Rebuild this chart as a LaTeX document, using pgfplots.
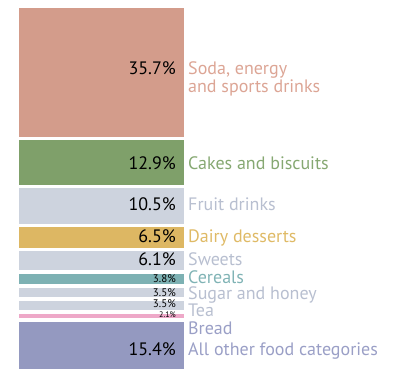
\documentclass[border=0pt]{standalone}
\usepackage{pgfplots}
\pgfplotsset{compat=1.18}
\usepackage{fontspec}
\setmainfont{PT Sans}
\definecolor{cSoda}{HTML}{D39C8B}
\definecolor{tSoda}{HTML}{DCA595}
\definecolor{cCake}{HTML}{7FA06A}
\definecolor{tCake}{HTML}{86A872}
\definecolor{cGray}{HTML}{CDD3DE}
\definecolor{tGray}{HTML}{B8BFD0}
\definecolor{cDairy}{HTML}{DDB763}
\definecolor{tDairy}{HTML}{DFBA66}
\definecolor{cCer}{HTML}{7DB1B3}
\definecolor{tCer}{HTML}{80B3B5}
\definecolor{cPink}{HTML}{EEA8C8}
\definecolor{cOther}{HTML}{9499C0}
\definecolor{tOther}{HTML}{9A9FC6}
\newcommand{\fbig}{\fontsize{18}{21}\selectfont}
\newcommand{\fmid}{\fontsize{11}{12}\selectfont}
\newcommand{\fsml}{\fontsize{8}{9}\selectfont}
\tikzset{
  pct/.style={anchor=base east, inner sep=0pt, text=black},
  cat/.style={anchor=base west, inner sep=0pt},
  seg/.style={draw=white, line width=3.5pt},
}
\begin{document}
\begin{tikzpicture}
\begin{axis}[
  width=393pt, height=371pt, scale only axis,
  xmin=0, xmax=393, ymin=1.64, ymax=101.62,
  hide axis, ybar stacked, bar width=168.5,
]
\addplot[seg, fill=cOther] coordinates {(101.5,15.4)};
\addplot[seg, fill=cPink] coordinates {(101.5,2.1)};
\addplot[seg, fill=cGray] coordinates {(101.5,3.5)};
\addplot[seg, fill=cGray] coordinates {(101.5,3.5)};
\addplot[seg, fill=cCer] coordinates {(101.5,3.8)};
\addplot[seg, fill=cGray] coordinates {(101.5,6.1)};
\addplot[seg, fill=cDairy] coordinates {(101.5,6.5)};
\addplot[seg, fill=cGray] coordinates {(101.5,10.5)};
\addplot[seg, fill=cCake] coordinates {(101.5,12.9)};
\addplot[seg, fill=cSoda] coordinates {(101.5,35.7)};
\coordinate (p1) at (axis cs:176,81.41);
\coordinate (p2) at (axis cs:176,55.81);
\coordinate (p3) at (axis cs:176,44.76);
\coordinate (p4) at (axis cs:176,36.22);
\coordinate (p5) at (axis cs:176,30.02);
\coordinate (p6) at (axis cs:176,25.55);
\coordinate (p7) at (axis cs:176,21.67);
\coordinate (p8) at (axis cs:176,18.70);
\coordinate (p9) at (axis cs:176,16.12);
\coordinate (p10) at (axis cs:176,5.69);
\node[cat, text=tSoda] at (axis cs:188,81.41) {\fbig Soda, energy};
\node[cat, text=tSoda] at (axis cs:188,76.64) {\fbig and sports drinks};
\node[cat, text=tCake] at (axis cs:188,55.81) {\fbig Cakes and biscuits};
\node[cat, text=tGray] at (axis cs:188,44.76) {\fbig Fruit drinks};
\node[cat, text=tDairy] at (axis cs:188,36.22) {\fbig Dairy desserts};
\node[cat, text=tGray] at (axis cs:188,30.02) {\fbig Sweets};
\node[cat, text=tCer] at (axis cs:188,25.17) {\fbig Cereals};
\node[cat, text=tGray] at (axis cs:188,20.86) {\fbig Sugar and honey};
\node[cat, text=tGray] at (axis cs:188,16.39) {\fbig Tea};
\node[cat, text=tOther] at (axis cs:188,11.35) {\fbig Bread};
\node[cat, text=tOther] at (axis cs:188,5.69) {\fbig All other food categories};
\end{axis}
\node[pct] at (p1) {\fbig 35.7\%};
\node[pct] at (p2) {\fbig 12.9\%};
\node[pct] at (p3) {\fbig 10.5\%};
\node[pct] at (p4) {\fbig 6.5\%};
\node[pct] at (p5) {\fbig 6.1\%};
\node[pct] at (p6) {\fmid 3.8\%};
\node[pct] at (p7) {\fmid 3.5\%};
\node[pct] at (p8) {\fmid 3.5\%};
\node[pct] at (p9) {\fsml 2.1\%};
\node[pct] at (p10) {\fbig 15.4\%};
\path (0,0) rectangle (393pt,371pt);
\end{tikzpicture}
\end{document}
